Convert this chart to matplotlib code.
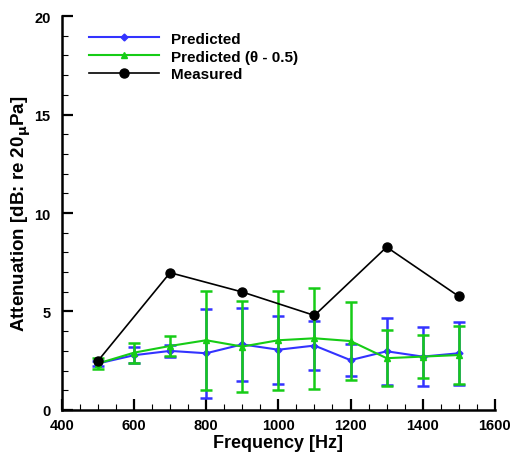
"""Attenuation vs frequency: predicted, predicted (theta - 0.5) and measured"""

import matplotlib.pyplot as plt
import numpy as np
from matplotlib.lines import Line2D
from matplotlib.ticker import MultipleLocator

plt.rcParams["font.family"] = ["Liberation Sans", "DejaVu Sans"]
plt.rcParams["font.weight"] = "bold"
plt.rcParams["mathtext.default"] = "bf"

freq = np.array([500, 600, 700, 800, 900, 1000, 1100, 1200, 1300, 1400, 1500])
pred = np.array([2.36, 2.78, 3.0, 2.88, 3.33, 3.06, 3.27, 2.53, 2.98, 2.71, 2.88])
pred_err = np.array([0.15, 0.4, 0.3, 2.25, 1.85, 1.72, 1.25, 0.8, 1.7, 1.5, 1.6])
pred_theta = np.array([2.36, 2.91, 3.25, 3.54, 3.22, 3.54, 3.64, 3.5, 2.63, 2.71, 2.79])
pred_theta_err = np.array([0.3, 0.5, 0.5, 2.5, 2.3, 2.5, 2.55, 2.0, 1.42, 1.08, 1.45])
meas_freq = np.array([500, 700, 900, 1100, 1300, 1500])
meas = np.array([2.49, 6.97, 5.99, 4.8, 8.27, 5.77])

blue = "#3333ff"
green = "#16cc16"

fig = plt.figure(figsize=(5.15, 4.56), dpi=100)
ax = fig.add_axes([0.120, 0.0987, 0.841, 0.864])

ax.errorbar(freq, pred, yerr=pred_err, color=blue, marker="D", markersize=3.5,
            lw=1.5, elinewidth=1.8, capsize=4, capthick=1.8, zorder=2)
ax.errorbar(freq, pred_theta, yerr=pred_theta_err, color=green, marker="^", markersize=4,
            lw=1.5, elinewidth=1.8, capsize=4, capthick=1.8, zorder=3)
ax.plot(meas_freq, meas, color="black", marker="o", markersize=6.5, lw=1.2, zorder=4)

handles = [
    Line2D([], [], color=blue, marker="D", markersize=3.5, lw=1.5),
    Line2D([], [], color=green, marker="^", markersize=4, lw=1.5),
    Line2D([], [], color="black", marker="o", markersize=6.5, lw=1.2),
]
labels = ["Predicted", "Predicted (\u03b8 - 0.5)", "Measured"]

ax.set_xlim(400, 1600)
ax.set_ylim(0, 20)
ax.xaxis.set_major_locator(MultipleLocator(200))
ax.xaxis.set_minor_locator(MultipleLocator(50))
ax.yaxis.set_major_locator(MultipleLocator(5))
ax.yaxis.set_minor_locator(MultipleLocator(1))

for side in ["top", "right"]:
    ax.spines[side].set_visible(False)
for side in ["left", "bottom"]:
    ax.spines[side].set_linewidth(1.8)

ax.tick_params(which="major", direction="in", length=8, width=1.6, labelsize=10.5)
ax.tick_params(axis="x", which="major", pad=6)
ax.tick_params(axis="y", which="major", pad=8)
ax.tick_params(which="minor", direction="in", length=4, width=0.8)

ax.set_xlabel("Frequency [Hz]", fontsize=13, fontweight="bold", labelpad=1)
ax.set_ylabel("Attenuation [dB: re 20$_{\\mu}$Pa]", fontsize=13.5, fontweight="bold", labelpad=1)

ax.legend(handles, labels, loc="upper left", frameon=False, fontsize=11, handlelength=4.6,
          handletextpad=0.8, labelspacing=0.25, bbox_to_anchor=(0.03, 0.995))

fig.savefig("out.png", dpi=100)
